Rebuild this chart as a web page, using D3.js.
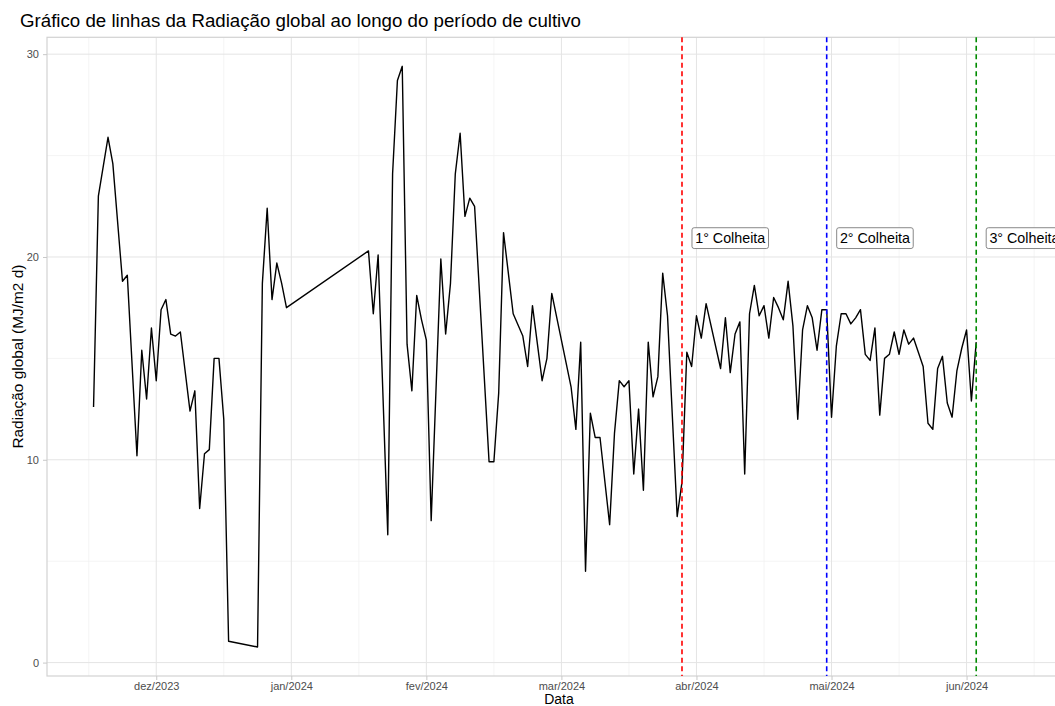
<!DOCTYPE html>
<html>
<head>
<meta charset="utf-8">
<script src="https://cdn.jsdelivr.net/npm/d3@7"></script>
<style>
  body { margin: 0; background: #ffffff; }
  svg { display: block; }
  text { font-family: "Liberation Sans", Arial, sans-serif; }
</style>
</head>
<body>
<svg id="chart" width="1055" height="706"></svg>
<script>
// Radiação global diária (MJ/m2 d) ao longo do período de cultivo
const datas = [
  "2023-12-18","2023-12-19","2023-12-21","2023-12-22","2023-12-24","2023-12-25","2023-12-27","2023-12-28",
  "2023-12-29","2023-12-30","2023-12-31","2024-01-01","2024-01-02","2024-01-03","2024-01-04","2024-01-05",
  "2024-01-07","2024-01-08","2024-01-09","2024-01-10","2024-01-11","2024-01-12","2024-01-13","2024-01-14",
  "2024-01-15","2024-01-21","2024-01-22","2024-01-23","2024-01-24","2024-01-25","2024-01-26","2024-01-27",
  "2024-02-13","2024-02-14","2024-02-15","2024-02-17","2024-02-18","2024-02-19","2024-02-20","2024-02-21",
  "2024-02-22","2024-02-23","2024-02-24","2024-02-25","2024-02-26","2024-02-28","2024-02-29","2024-03-01",
  "2024-03-02","2024-03-03","2024-03-04","2024-03-05","2024-03-06","2024-03-09","2024-03-10","2024-03-11",
  "2024-03-12","2024-03-14","2024-03-16","2024-03-17","2024-03-18","2024-03-20","2024-03-21","2024-03-22",
  "2024-03-26","2024-03-27","2024-03-28","2024-03-29","2024-03-30","2024-03-31","2024-04-01","2024-04-03",
  "2024-04-04","2024-04-05","2024-04-06","2024-04-07","2024-04-08","2024-04-09","2024-04-10","2024-04-11",
  "2024-04-12","2024-04-13","2024-04-14","2024-04-15","2024-04-17","2024-04-18","2024-04-19","2024-04-20",
  "2024-04-21","2024-04-22","2024-04-23","2024-04-26","2024-04-27","2024-04-28","2024-04-29","2024-04-30",
  "2024-05-01","2024-05-02","2024-05-03","2024-05-04","2024-05-05","2024-05-06","2024-05-07","2024-05-08",
  "2024-05-09","2024-05-10","2024-05-11","2024-05-12","2024-05-13","2024-05-14","2024-05-15","2024-05-16",
  "2024-05-17","2024-05-18","2024-05-19","2024-05-20","2024-05-21","2024-05-22","2024-05-23","2024-05-24",
  "2024-05-25","2024-05-26","2024-05-27","2024-05-28","2024-05-29","2024-05-30","2024-05-31","2024-06-01",
  "2024-06-02","2024-06-03","2024-06-04","2024-06-05","2024-06-06","2024-06-07","2024-06-08","2024-06-09",
  "2024-06-10","2024-06-11","2024-06-12","2024-06-13","2024-06-14","2024-06-15","2024-06-16","2024-06-17",
  "2024-06-18"
];

const radiacao = [
  12.6, 23.0, 25.9, 24.6, 18.8, 19.1, 10.2, 15.4,
  13.0, 16.5, 13.9, 17.4, 17.9, 16.2, 16.1, 16.3,
  12.4, 13.4, 7.6, 10.3, 10.5, 15.0, 15.0, 12.0,
  1.05, 0.77, 18.7, 22.4, 17.9, 19.7, 18.7, 17.5,
  20.3, 17.2, 20.1, 6.3, 24.1, 28.7, 29.4, 15.7,
  13.4, 18.1, 16.9, 15.9, 7.0, 19.9, 16.2, 18.7,
  24.1, 26.1, 22.0, 22.9, 22.5, 9.9, 9.9, 13.3,
  21.2, 17.2, 16.1, 14.6, 17.6, 13.9, 15.0, 18.2,
  13.6, 11.5, 15.8, 4.5, 12.3, 11.1, 11.1, 6.8,
  11.3, 13.9, 13.6, 13.9, 9.3, 12.5, 8.5, 15.8,
  13.1, 14.1, 19.2, 17.1, 7.2, 8.9, 15.3, 14.6,
  17.1, 16.0, 17.7, 14.5, 17.0, 14.3, 16.2, 16.8,
  9.3, 17.2, 18.6, 17.1, 17.6, 16.0, 18.0, 17.5,
  16.9, 18.8, 16.6, 12.0, 16.4, 17.6, 17.0, 15.4,
  17.4, 17.4, 12.1, 15.6, 17.2, 17.2, 16.7, 17.0,
  17.4, 15.2, 14.9, 16.5, 12.2, 15.0, 15.2, 16.3,
  15.2, 16.4, 15.7, 16.0, 15.3, 14.6, 11.8, 11.5,
  14.5, 15.1, 12.8, 12.1, 14.4, 15.5, 16.4, 12.9,
  15.8
];

// Datas de colheita marcadas por linhas tracejadas
const colheitaDatas = ["2024-04-18", "2024-05-18", "2024-06-18"];
const colheitaRotulos = ["1° Colheita", "2° Colheita", "3° Colheita"];
const colheitaCores = ["#ff0000", "#0000ff", "#008b00"];
const rotuloValorY = 21;      // altura dos rótulos (MJ/m2 d)
const rotuloDeslocDias = 10;  // rótulo deslocado em dias após a colheita

// Marcas do eixo x (a cada 4 semanas)
const tickDatas = ["2023-12-31", "2024-01-28", "2024-02-25", "2024-03-24", "2024-04-21", "2024-05-19", "2024-06-16"];
const tickRotulos = ["dez/2023", "jan/2024", "fev/2024", "mar/2024", "abr/2024", "mai/2024", "jun/2024"];
const yTicks = [0, 10, 20, 30];
const yTicksMenores = [5, 15, 25];

const parse = d3.timeParse("%Y-%m-%d");
const DIA = 24 * 3600 * 1000;

const serie = datas.map((d, i) => ({ data: parse(d), valor: radiacao[i] }));
const colheitas = colheitaDatas.map((d, i) => ({
  data: parse(d), rotulo: colheitaRotulos[i], cor: colheitaCores[i]
}));
const ticks = tickDatas.map((d, i) => ({ data: parse(d), rotulo: tickRotulos[i] }));

const svg = d3.select("#chart");
const painel = { left: 47, right: 1071, top: 37.3, bottom: 676 };

// Escala x: dados + posição dos rótulos, com expansão de 5%
const tMin = d3.min(serie, d => d.data);
const tMax = d3.max([
  d3.max(serie, d => d.data),
  d3.max(colheitas, c => new Date(c.data.getTime() + rotuloDeslocDias * DIA))
]);
const padX = 0.05 * (tMax - tMin);
const x = d3.scaleTime()
  .domain([new Date(tMin.getTime() - padX), new Date(tMax.getTime() + padX)])
  .range([painel.left, painel.right]);

// Escala y com expansão de 5%
const vMin = d3.min(serie, d => d.valor);
const vMax = d3.max(serie, d => d.valor);
const padY = 0.05 * (vMax - vMin);
const y = d3.scaleLinear()
  .domain([vMin - padY, vMax + padY])
  .range([painel.bottom, painel.top]);

// Grade menor
const xMenores = [];
xMenores.push(new Date(ticks[0].data.getTime() - 14 * DIA));
for (let i = 0; i < ticks.length - 1; i++) {
  xMenores.push(new Date((ticks[i].data.getTime() + ticks[i + 1].data.getTime()) / 2));
}
xMenores.push(new Date(ticks[ticks.length - 1].data.getTime() + 14 * DIA));

const grade = svg.append("g");
grade.selectAll("line.xmenor").data(xMenores).join("line")
  .attr("x1", d => x(d)).attr("x2", d => x(d))
  .attr("y1", painel.top).attr("y2", painel.bottom)
  .attr("stroke", "#f1f1f1").attr("stroke-width", 0.8);
grade.selectAll("line.ymenor").data(yTicksMenores).join("line")
  .attr("x1", painel.left).attr("x2", painel.right)
  .attr("y1", d => y(d)).attr("y2", d => y(d))
  .attr("stroke", "#f1f1f1").attr("stroke-width", 0.8);
grade.selectAll("line.xmaior").data(ticks).join("line")
  .attr("x1", d => x(d.data)).attr("x2", d => x(d.data))
  .attr("y1", painel.top).attr("y2", painel.bottom)
  .attr("stroke", "#e4e4e4").attr("stroke-width", 1);
grade.selectAll("line.ymaior").data(yTicks).join("line")
  .attr("x1", painel.left).attr("x2", painel.right)
  .attr("y1", d => y(d)).attr("y2", d => y(d))
  .attr("stroke", "#e4e4e4").attr("stroke-width", 1);

// Borda do painel
svg.append("rect")
  .attr("x", painel.left).attr("y", painel.top)
  .attr("width", painel.right - painel.left).attr("height", painel.bottom - painel.top)
  .attr("fill", "none").attr("stroke", "#d2d2d2").attr("stroke-width", 1.2);

// Eixo x
const eixoX = d3.axisBottom(x)
  .tickValues(ticks.map(t => t.data))
  .tickFormat((d, i) => ticks[i].rotulo)
  .tickSize(4).tickPadding(2);
const gx = svg.append("g").attr("transform", `translate(0,${painel.bottom})`).call(eixoX);
gx.select(".domain").remove();
gx.selectAll(".tick line").attr("stroke", "#c8c8c8");
gx.selectAll(".tick text").attr("fill", "#4d4d4d").style("font-size", "11px");

// Eixo y
const eixoY = d3.axisLeft(y).tickValues(yTicks).tickSize(4).tickPadding(4);
const gy = svg.append("g").attr("transform", `translate(${painel.left},0)`).call(eixoY);
gy.select(".domain").remove();
gy.selectAll(".tick line").attr("stroke", "#c8c8c8");
gy.selectAll(".tick text").attr("fill", "#4d4d4d").style("font-size", "11px");

// Série de radiação
const linha = d3.line().x(d => x(d.data)).y(d => y(d.valor));
svg.append("path")
  .datum(serie)
  .attr("d", linha)
  .attr("fill", "none")
  .attr("stroke", "#000000")
  .attr("stroke-width", 1.4)
  .attr("stroke-linejoin", "round");

// Linhas tracejadas das colheitas
svg.selectAll("line.colheita").data(colheitas).join("line")
  .attr("x1", d => x(d.data)).attr("x2", d => x(d.data))
  .attr("y1", painel.top).attr("y2", painel.bottom)
  .attr("stroke", d => d.cor).attr("stroke-width", 1.6)
  .attr("stroke-dasharray", "5,3.5");

// Rótulos das colheitas
const rot = svg.selectAll("g.rotulo").data(colheitas).join("g")
  .attr("transform", d => `translate(${x(new Date(d.data.getTime() + rotuloDeslocDias * DIA))},${y(rotuloValorY)})`);
rot.append("text")
  .attr("text-anchor", "middle")
  .attr("dy", "0.45em")
  .style("font-size", "14.3px")
  .attr("fill", "#000")
  .text(d => d.rotulo);
rot.each(function () {
  const g = d3.select(this);
  const bb = g.select("text").node().getBBox();
  const pad = 3.2;
  g.insert("rect", "text")
    .attr("x", bb.x - pad).attr("y", bb.y - pad + 0.8)
    .attr("width", bb.width + 2 * pad).attr("height", bb.height + 2 * pad - 1.6)
    .attr("rx", 2.2).attr("ry", 2.2)
    .attr("fill", "#ffffff").attr("stroke", "#7a7a7a").attr("stroke-width", 0.9);
});

// Títulos
svg.append("text")
  .attr("x", 20).attr("y", 27)
  .style("font-size", "18.7px").attr("fill", "#000")
  .text("Gráfico de linhas da Radiação global ao longo do período de cultivo");

svg.append("text")
  .attr("transform", `translate(23,${(painel.top + painel.bottom) / 2}) rotate(-90)`)
  .attr("text-anchor", "middle")
  .style("font-size", "15.4px").attr("fill", "#000")
  .text("Radiação global (MJ/m2 d)");

svg.append("text")
  .attr("x", (painel.left + painel.right) / 2).attr("y", 703.5)
  .attr("text-anchor", "middle")
  .style("font-size", "14px").attr("fill", "#000")
  .text("Data");
</script>
</body>
</html>
